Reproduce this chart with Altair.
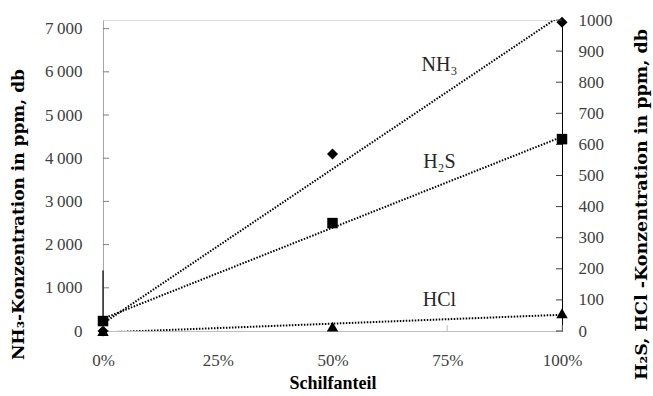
import altair as alt
import pandas as pd

# ---- data ----
shares = [0.0, 0.5, 1.0]                 # Schilfanteil
nh3 = [0, 4100, 7150]                    # ppm (left axis)
h2s = [32, 347, 617]                     # ppm (right axis)
hcl = [0, 14, 57]                        # ppm (right axis)
nh3_bar = [0, 1400]                      # black vertical segment at 0 %

left_ticks = [0, 1000, 2000, 3000, 4000, 5000, 6000, 7000]
right_ticks = [0, 100, 200, 300, 400, 500, 600, 700, 800, 900, 1000]
x_ticks = [0, 0.25, 0.5, 0.75, 1.0]

label_names = ["NH₃", "H₂S", "HCl"]
label_x = [0.733, 0.733, 0.733]
label_y = [855, 543, 100]                # in right-axis units

W, H = 459, 311
FONT = "Liberation Serif"
TITLE_FONT_Y = "DejaVu Serif"
LABEL_COLOR = "#404040"

df_nh3 = pd.DataFrame({"x": shares, "y": nh3})
df_h2s = pd.DataFrame({"x": shares, "y": h2s})
df_hcl = pd.DataFrame({"x": shares, "y": hcl})
df_bar = pd.DataFrame({"x": [0.0], "y": [nh3_bar[0]], "y2": [nh3_bar[1]]})
df_lt = pd.DataFrame({"y": left_ticks})
df_rt = pd.DataFrame({"y": right_ticks})
df_xt = pd.DataFrame({"x": x_ticks})
df_lab = pd.DataFrame({"x": label_x, "y": label_y, "name": label_names})

x_axis = alt.Axis(values=x_ticks, format="%", title="Schilfanteil", grid=False,
                  ticks=False, tickSize=0, labelPadding=21, labelFlush=False,
                  domainColor="#bfbfbf",
                  labelFont=FONT, labelFontSize=17, labelColor=LABEL_COLOR,
                  titleFont=FONT, titleFontSize=18, titleFontWeight="bold",
                  titleColor="black", titleY=52, titleBaseline="middle")
x_enc = alt.X("x:Q", scale=alt.Scale(domain=[0, 1], nice=False, zero=False), axis=x_axis)

left_axis = alt.Axis(values=left_ticks, title="NH₃-Konzentration in ppm, db", grid=False,
                     ticks=False, tickSize=0, labelPadding=21, labelFlush=False,
                     domainColor="#a6a6a6",
                     labelExpr="replace(format(datum.value, ','), ',', '\u2009')",
                     labelFont=FONT, labelFontSize=17, labelColor=LABEL_COLOR,
                     titleFont=TITLE_FONT_Y, titleFontSize=17, titleFontWeight="bold",
                     titleColor="black", titleAngle=270, titleX=-85, titleY=194,
                     titleAlign="center", titleBaseline="middle")
left_scale = alt.Scale(domain=[0, 7200], nice=False, zero=True)
y_left = alt.Y("y:Q", scale=left_scale, axis=left_axis)

right_axis = alt.Axis(values=right_ticks, orient="right", format="d",
                      title="H₂S, HCl -Konzentration in ppm, db",
                      grid=False, ticks=False, tickSize=0, labelPadding=16, labelFlush=False,
                      domainColor="black",
                      labelFont=FONT, labelFontSize=17, labelColor=LABEL_COLOR,
                      titleFont=TITLE_FONT_Y, titleFontSize=17.5, titleFontWeight="bold",
                      titleColor="black", titleAngle=270, titleX=79, titleY=184,
                      titleAlign="center", titleBaseline="middle")
right_scale = alt.Scale(domain=[0, 1000], nice=False, zero=True)
y_right = alt.Y("y:Q", scale=right_scale, axis=right_axis)

dot = dict(color="black", strokeWidth=2, strokeDash=[1.5, 1.5], clip=True)


def trend(df, y_enc):
    return alt.Chart(df).transform_regression("x", "y", extent=[0, 1]).mark_line(**dot).encode(
        x=x_enc, y=y_enc)


# ---- left (NH3) layer ----
nh3_line = trend(df_nh3, y_left)
nh3_pts = alt.Chart(df_nh3).mark_point(shape="diamond", filled=True, size=121,
                                       color="black", opacity=1).encode(x=x_enc, y=y_left)
bar = alt.Chart(df_bar).mark_rule(color="black", strokeWidth=1.2).encode(
    x=x_enc, y=y_left, y2="y2:Q")
lt = alt.Chart(df_lt).mark_rule(color="#808080").encode(
    x=alt.value(0), x2=alt.value(6), y=y_left)
left = alt.layer(lt, bar, nh3_line, nh3_pts)

# ---- right (H2S, HCl) layer ----
h2s_line = trend(df_h2s, y_right)
hcl_line = trend(df_hcl, y_right)
h2s_pts = alt.Chart(df_h2s).mark_point(shape="square", filled=True, size=110,
                                       color="black", opacity=1).encode(x=x_enc, y=y_right)
hcl_pts = alt.Chart(df_hcl).mark_point(shape="triangle-up", filled=True, size=130,
                                       color="black", opacity=1).encode(x=x_enc, y=y_right)
rt = alt.Chart(df_rt).mark_rule(color="#404040").encode(
    x=alt.value(W - 6), x2=alt.value(W), y=y_right)
xt = alt.Chart(df_xt).mark_rule(color="#bfbfbf").encode(
    x=x_enc, y=alt.value(H - 6), y2=alt.value(H))
labels = alt.Chart(df_lab).mark_text(font=FONT, fontSize=20, color="#262626").encode(
    x=x_enc, y=y_right, text="name:N")
right = alt.layer(xt, rt, h2s_line, hcl_line, h2s_pts, hcl_pts, labels)

chart = alt.layer(left, right).resolve_scale(y="independent").properties(
    width=W, height=H,
    autosize=alt.AutoSizeParams(type="none"),
    padding={"left": 103, "top": 20, "right": 91, "bottom": 65},
).configure_view(stroke=None).configure(background="white")

chart.save("out.html", embed_options={"renderer": "svg", "actions": False})
